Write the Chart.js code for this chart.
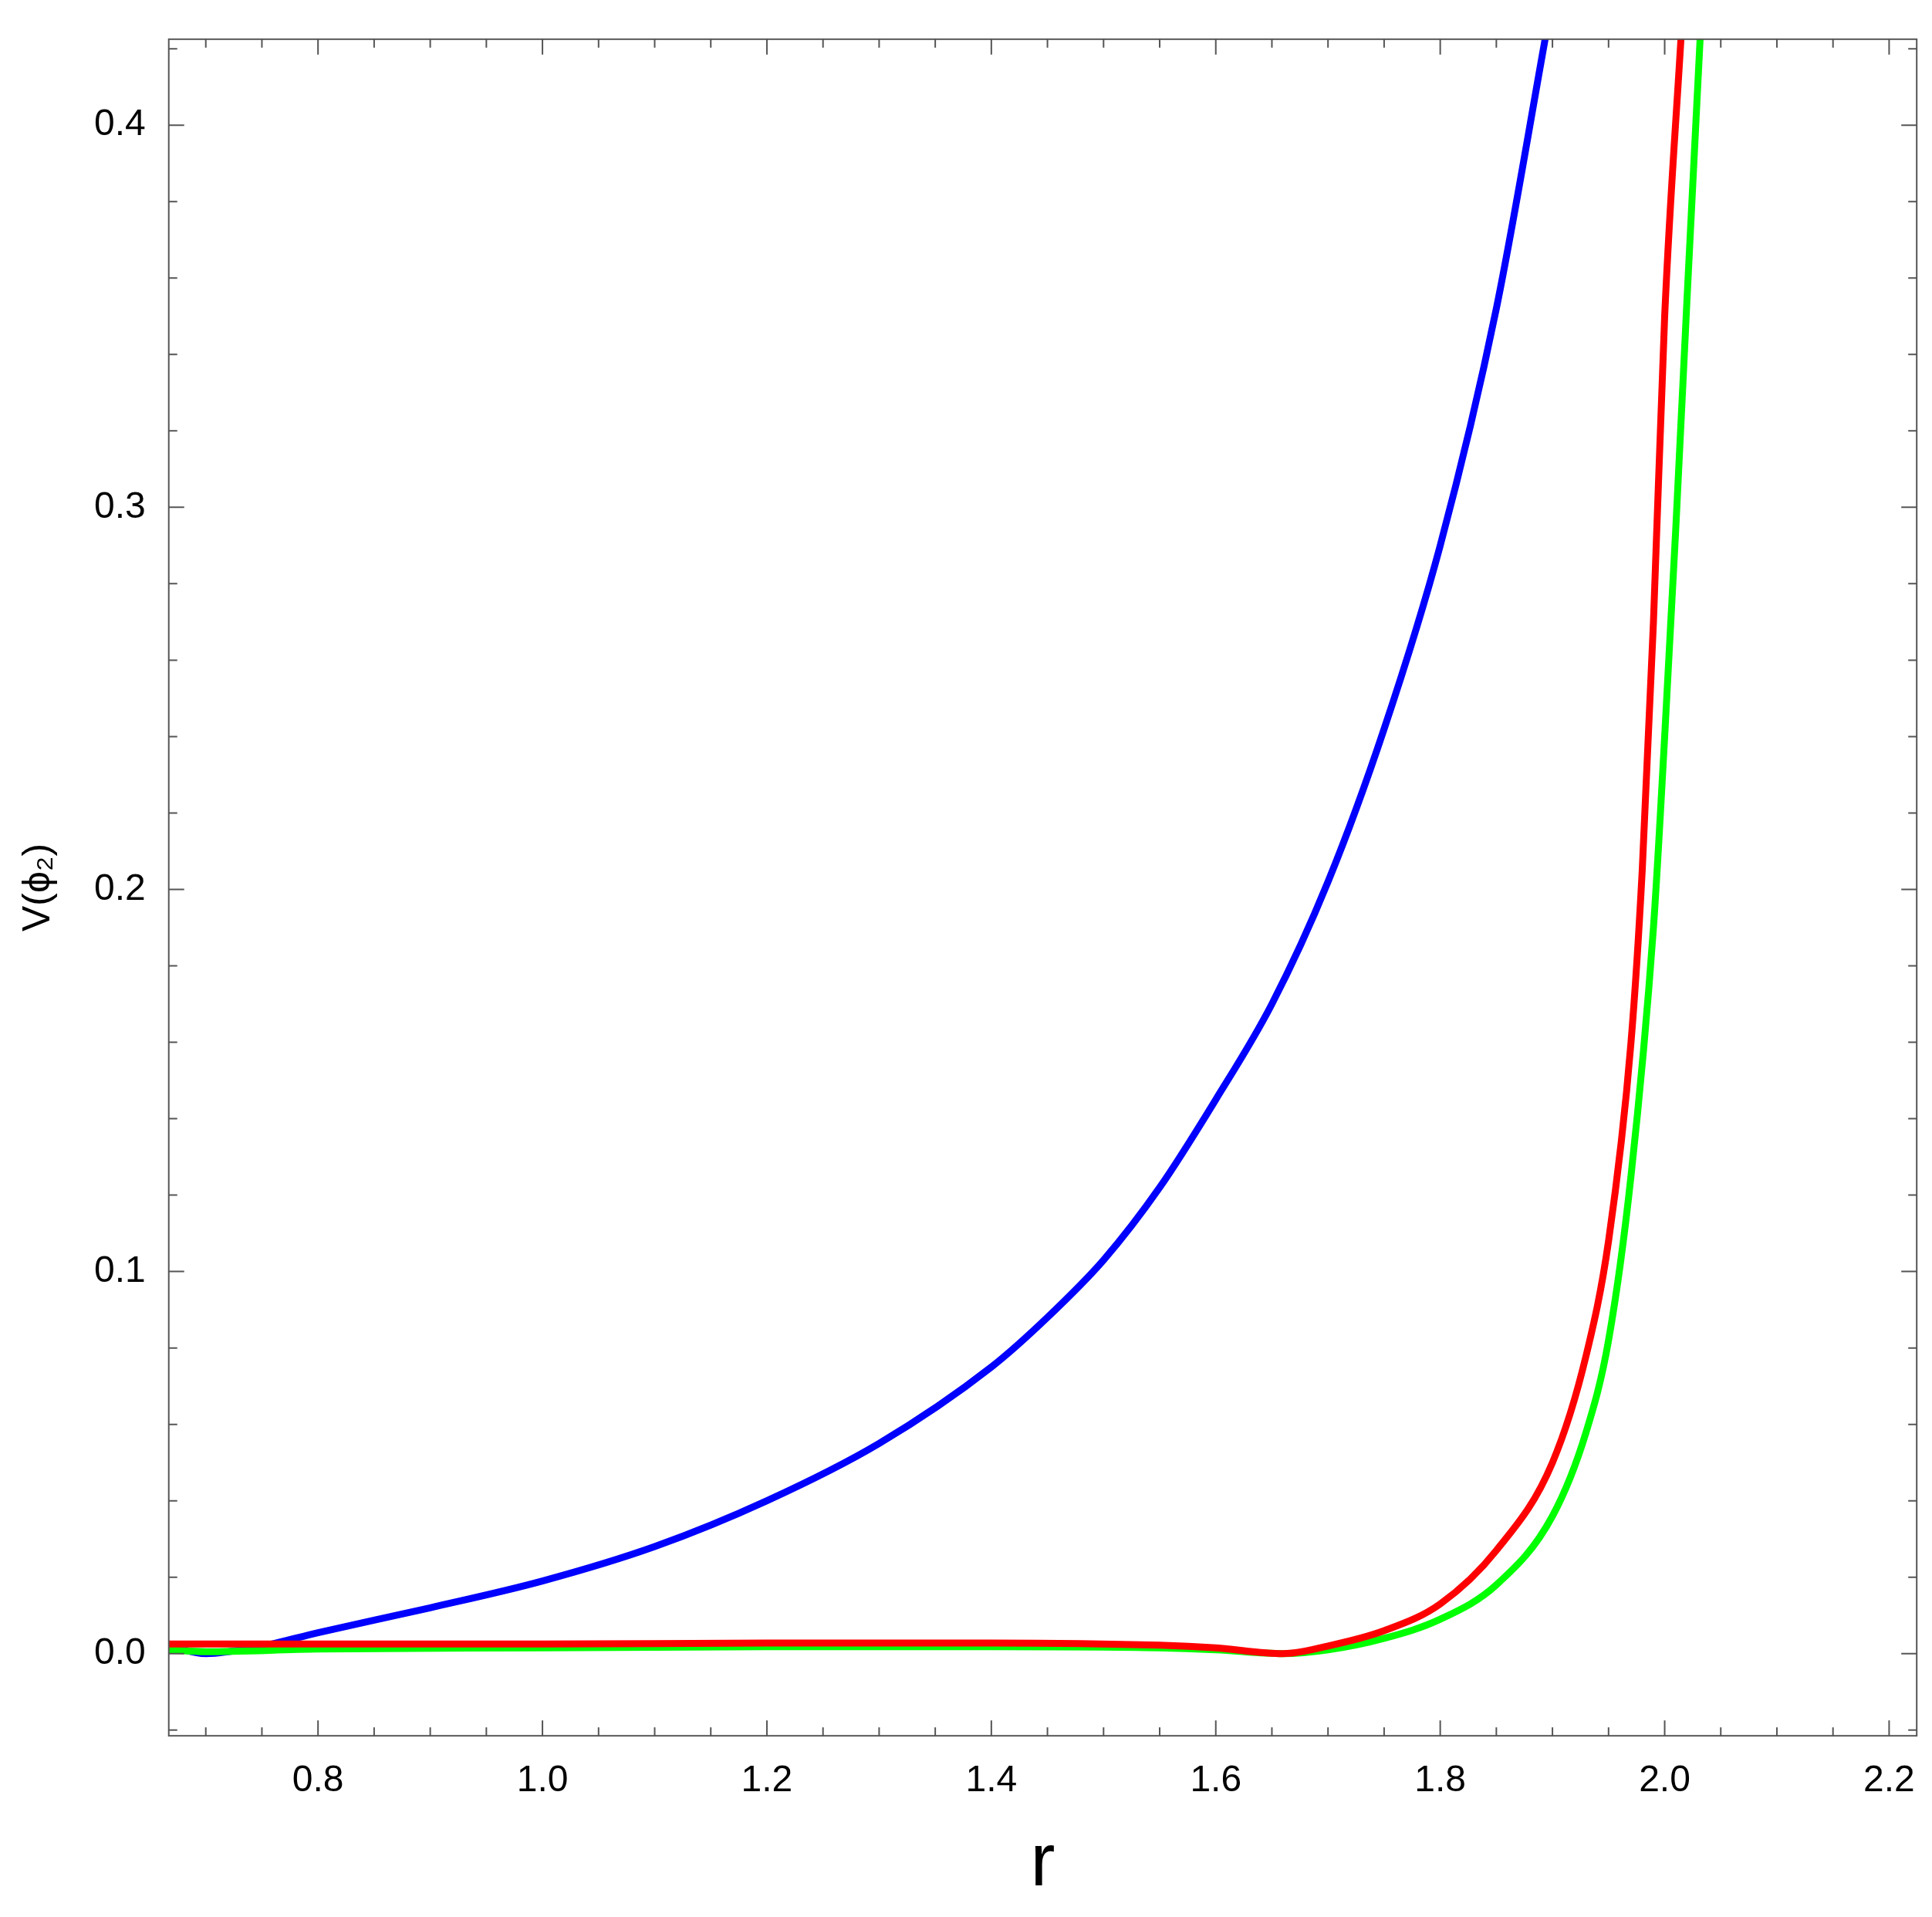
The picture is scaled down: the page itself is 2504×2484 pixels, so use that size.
<!DOCTYPE html>
<html>
<head>
<meta charset="utf-8">
<script src="https://cdn.jsdelivr.net/npm/chart.js@4"></script>
<style>
  html, body { margin: 0; padding: 0; background: #fff; }
  #wrap { width: 2504px; height: 2484px; }
</style>
</head>
<body>
<div id="wrap"><canvas id="c"></canvas></div>
<script>
const blueR = [0.667, 0.70, 0.75, 0.80, 0.90, 1.00, 1.10, 1.20, 1.30, 1.40, 1.45, 1.50, 1.55, 1.60, 1.65, 1.70, 1.75, 1.80, 1.85, 1.895];
const blueV = [0.002, 0.000, 0.002, 0.0055, 0.012, 0.019, 0.028, 0.040, 0.055, 0.075, 0.088, 0.103, 0.122, 0.145, 0.170, 0.202, 0.242, 0.290, 0.352, 0.425];

const redR = [0.667, 0.80, 1.00, 1.20, 1.40, 1.55, 1.60, 1.66, 1.70, 1.75, 1.80, 1.85, 1.90, 1.93, 1.95, 1.97, 1.98, 1.99, 2.00, 2.015];
const redV = [0.0025, 0.0025, 0.0025, 0.0028, 0.0028, 0.0022, 0.0015, 0.000, 0.002, 0.006, 0.013, 0.027, 0.050, 0.078, 0.108, 0.160, 0.205, 0.270, 0.350, 0.425];

const greenR = [0.667, 0.70, 0.80, 1.00, 1.20, 1.40, 1.55, 1.60, 1.66, 1.70, 1.75, 1.80, 1.85, 1.90, 1.93, 1.95, 1.97, 1.99, 2.00, 2.01, 2.02, 2.032];
const greenV = [0.001, 0.0005, 0.0012, 0.0015, 0.0018, 0.0018, 0.0015, 0.001, 0.000, 0.001, 0.004, 0.009, 0.018, 0.036, 0.058, 0.082, 0.125, 0.190, 0.240, 0.295, 0.355, 0.425];

const xMajor = [0.8, 1.0, 1.2, 1.4, 1.6, 1.8, 2.0, 2.2];
const yMajor = [0.0, 0.1, 0.2, 0.3, 0.4];
const xMinorStep = 0.05, yMinorStep = 0.02;
const xMin = 0.667, xMax = 2.2246, yMin = -0.0215, yMax = 0.4225;

const pts = (xs, ys) => xs.map((x, i) => ({ x: x, y: ys[i] }));

// inward ticks on all four sides plus frame
const framePlugin = {
  id: 'frame',
  afterDraw(chart) {
    const { ctx, chartArea: a, scales: { x, y } } = chart;
    ctx.save();
    ctx.strokeStyle = '#555';
    ctx.lineWidth = 2;
    ctx.strokeRect(a.left, a.top, a.right - a.left, a.bottom - a.top);
    const tick = (px, len, vertical) => {
      ctx.beginPath();
      if (vertical) {
        ctx.moveTo(px, a.bottom); ctx.lineTo(px, a.bottom - len);
        ctx.moveTo(px, a.top); ctx.lineTo(px, a.top + len);
      } else {
        ctx.moveTo(a.left, px); ctx.lineTo(a.left + len, px);
        ctx.moveTo(a.right, px); ctx.lineTo(a.right - len, px);
      }
      ctx.stroke();
    };
    for (let v = 0.65; v <= xMax; v += xMinorStep) {
      if (v < xMin) continue;
      const major = xMajor.some(m => Math.abs(m - v) < 1e-6);
      tick(x.getPixelForValue(v), major ? 20 : 11, true);
    }
    for (let v = -0.02; v <= yMax; v += yMinorStep) {
      if (v < yMin) continue;
      const major = yMajor.some(m => Math.abs(m - v) < 1e-6);
      tick(y.getPixelForValue(v), major ? 20 : 11, false);
    }
    ctx.restore();
  }
};

const line = (data, color) => ({
  data: data,
  borderColor: color,
  borderWidth: 9,
  pointRadius: 0,
  showLine: true,
  fill: false,
  cubicInterpolationMode: 'monotone'
});

new Chart(document.getElementById('c'), {
  type: 'scatter',
  data: {
    datasets: [
      line(pts(redR, redV), '#ff0000'),
      line(pts(greenR, greenV), '#00ff00'),
      line(pts(blueR, blueV), '#0000ff')
    ]
  },
  options: {
    responsive: true,
    maintainAspectRatio: false,
    animation: false,
    layout: { padding: { top: 22, right: 14, left: 0, bottom: 10 } },
    plugins: { legend: { display: false }, tooltip: { enabled: false } },
    scales: {
      x: {
        type: 'linear', min: xMin, max: xMax,
        afterBuildTicks: s => { s.ticks = xMajor.map(v => ({ value: v })); },
        grid: { display: false },
        border: { display: false },
        ticks: { color: '#000', font: { family: 'Liberation Sans', size: 48 }, padding: 22,
                 callback: v => v.toFixed(1) },
        title: { display: true, text: 'r', color: '#000', font: { family: 'Liberation Sans', size: 96 }, padding: 0 }
      },
      y: {
        type: 'linear', min: yMin, max: yMax,
        afterBuildTicks: s => { s.ticks = yMajor.map(v => ({ value: v })); },
        grid: { display: false },
        border: { display: false },
        ticks: { color: '#000', font: { family: 'Liberation Sans', size: 48 }, padding: 22,
                 callback: v => v.toFixed(1) },
        title: { display: true, text: 'V(ϕ₂)', color: '#000', font: { family: 'Liberation Sans', size: 50 }, padding: 20 }
      }
    }
  },
  plugins: [framePlugin]
});
</script>
</body>
</html>
